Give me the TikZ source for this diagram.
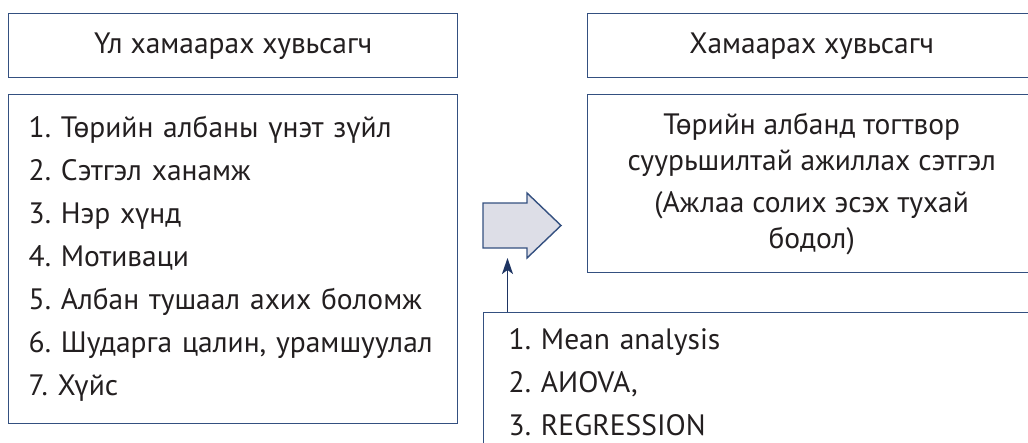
\documentclass[tikz,border=0pt]{standalone}
\usepackage{fontspec}
\setmainfont{PT Sans}
\usetikzlibrary{positioning,arrows.meta}
\definecolor{boxblue}{RGB}{52,80,128}
\definecolor{arrownavy}{RGB}{30,52,98}
\definecolor{arrowfill}{RGB}{221,222,231}
\definecolor{textgray}{RGB}{35,31,32}
\frenchspacing

\begin{document}
\begin{tikzpicture}[x=1pt, y=-1pt,
    varbox/.style={draw=boxblue, line width=1.4pt, anchor=north west, inner sep=0pt,
        text=textgray, font=\fontsize{29.5}{43}\selectfont}]
    \path[use as bounding box, clip] (0,0) rectangle (1028,442);

    % independent side
    \node[varbox, minimum width=449pt, minimum height=64pt] (indephead) at (8,13) {Үл хамаарах хувьсагч};
    \node[varbox, minimum width=449pt, minimum height=329pt, inner xsep=20pt, text width=409pt, align=left] (indeplist) at (8,94) {
        1. Төрийн албаны үнэт зүйл\\
        2. Сэтгэл ханамж\\
        3. Нэр хүнд\\
        4. Мотиваци\\
        5. Албан тушаал ахих боломж\\
        6. Шударга цалин, урамшуулал\\
        7. Хүйс
    };

    % dependent side
    \node[varbox, minimum width=448pt, minimum height=64pt] (dephead) at (587,13) {Хамаарах хувьсагч};
    \node[varbox, minimum width=448pt, minimum height=178pt, align=center, font=\fontsize{29.5}{36}\selectfont] (depbody) at (587,94) {
        Төрийн албанд тогтвор\\
        суурьшилтай ажиллах сэтгэл\\[6pt]
        (Ажлаа солих эсэх тухай\\
        бодол)
    };

    % methods
    \node[varbox, minimum width=552pt, minimum height=138pt, inner xsep=25pt, text width=502pt, align=left] (method) at (483,312) {
        1. Mean analysis\\
        2. AИOVA,\\
        3. REGRESSION
    };

    \draw[draw=boxblue, line width=1.4pt, fill=arrowfill, line join=miter]
        (483,203) -- (527,203) -- (527,193) -- (561,225.5) -- (527,258) -- (527,248) -- (483,248) -- cycle;

    \coordinate (tip) at (507.5,258);
    \draw[arrownavy, line width=1.6pt, -{Stealth[length=16pt, width=11pt, inset=4pt]}] (tip |- method.north) -- (tip);
\end{tikzpicture}
\end{document}
